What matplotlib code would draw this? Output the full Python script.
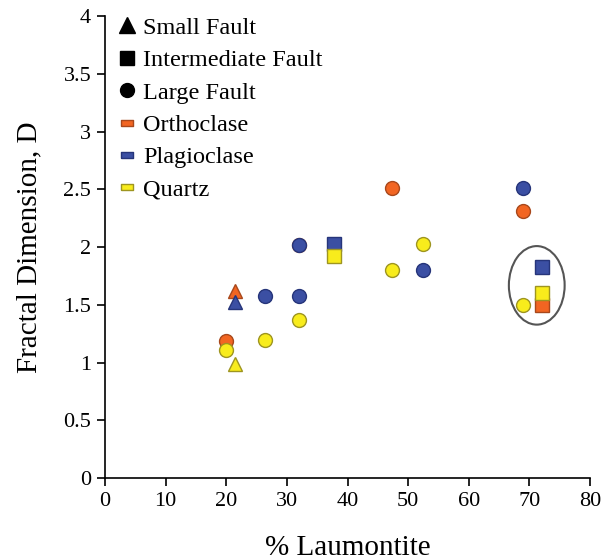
import matplotlib
matplotlib.use("Agg")
import matplotlib.pyplot as plt
from matplotlib.lines import Line2D
from matplotlib.patches import Ellipse

plt.rcParams["font.family"] = ["Liberation Serif", "DejaVu Serif"]

# colours per mineral (fill, edge)
mineral_colors = {
    "Orthoclase": ("#F26522", "#A8481C"),
    "Plagioclase": ("#3B4FA3", "#26357A"),
    "Quartz": ("#F8EC1C", "#9E9520"),
}

# Small fault (triangles)
small_x = [21.4, 21.4, 21.4]
small_y = [1.62, 1.53, 0.99]
small_m = ["Orthoclase", "Plagioclase", "Quartz"]

# Intermediate fault (squares)
inter_x = [37.8, 37.8, 72.0, 72.0, 72.0]
inter_y = [2.03, 1.92, 1.83, 1.50, 1.60]
inter_m = ["Plagioclase", "Quartz", "Plagioclase", "Orthoclase", "Quartz"]

# Large fault (circles)
large_x = [20.0, 20.0, 26.3, 26.3, 32.0, 32.0, 32.0, 32.0, 47.3, 47.3, 52.5, 52.5, 69.0, 69.0, 69.0]
large_y = [1.19, 1.11, 1.58, 1.20, 2.02, 2.02, 1.58, 1.37, 2.51, 1.80, 2.03, 1.80, 2.51, 2.31, 1.50]
large_m = ["Orthoclase", "Quartz", "Plagioclase", "Quartz", "Orthoclase", "Plagioclase",
           "Plagioclase", "Quartz", "Orthoclase", "Quartz", "Quartz", "Plagioclase",
           "Plagioclase", "Orthoclase", "Quartz"]

x_ticks = [0, 10, 20, 30, 40, 50, 60, 70, 80]
y_ticks = [0, 0.5, 1, 1.5, 2, 2.5, 3, 3.5, 4]
y_tick_labels = ["0", "0.5", "1", "1.5", "2", "2.5", "3", "3.5", "4"]

fig = plt.figure(figsize=(6.04, 5.6), dpi=100)
ax = fig.add_axes([0.174, 0.146, 0.803, 0.825])


def draw(xs, ys, ms, marker, size):
    for x, y, m in zip(xs, ys, ms):
        face, edge = mineral_colors[m]
        ax.plot(x, y, linestyle="none", marker=marker, markersize=size,
                markerfacecolor=face, markeredgecolor=edge, markeredgewidth=1.0)


draw(small_x, small_y, small_m, "^", 10)
draw(inter_x, inter_y, inter_m, "s", 10)
draw(large_x, large_y, large_m, "o", 10)

ax.add_patch(Ellipse((71.2, 1.67), 9.2, 0.68, fill=False, edgecolor="#555555", linewidth=1.5))

ax.set_xlim(0, 80)
ax.set_ylim(0, 4)
ax.set_xticks(x_ticks)
ax.set_yticks(y_ticks)
ax.set_yticklabels(y_tick_labels)
ax.tick_params(direction="out", length=6, width=1.2, labelsize=16, pad=4)
for side in ["top", "right"]:
    ax.spines[side].set_visible(False)
for side in ["left", "bottom"]:
    ax.spines[side].set_linewidth(1.2)

ax.set_xlabel("% Laumontite", fontsize=21, labelpad=17)
ax.set_ylabel("Fractal Dimension, D", fontsize=21, labelpad=15)

rect = [(-1, -0.55), (1, -0.55), (1, 0.55), (-1, 0.55), (-1, -0.55)]
handles = [
    Line2D([], [], linestyle="none", marker="^", markersize=11, color="black"),
    Line2D([], [], linestyle="none", marker="s", markersize=10, color="black"),
    Line2D([], [], linestyle="none", marker="o", markersize=10, color="black"),
]
labels = ["Small Fault", "Intermediate Fault", "Large Fault"]
for name in ["Orthoclase", "Plagioclase", "Quartz"]:
    face, edge = mineral_colors[name]
    handles.append(Line2D([], [], linestyle="none", marker=rect, markersize=9,
                          markerfacecolor=face, markeredgecolor=edge, markeredgewidth=1.0))
    labels.append(name)

ax.legend(handles, labels, loc="upper left", bbox_to_anchor=(-0.012, 1.036), frameon=False,
          fontsize=17.5, handlelength=0.9, handletextpad=0.2, labelspacing=0.43,
          borderaxespad=0.3)

fig.savefig("out.png", dpi=100)
